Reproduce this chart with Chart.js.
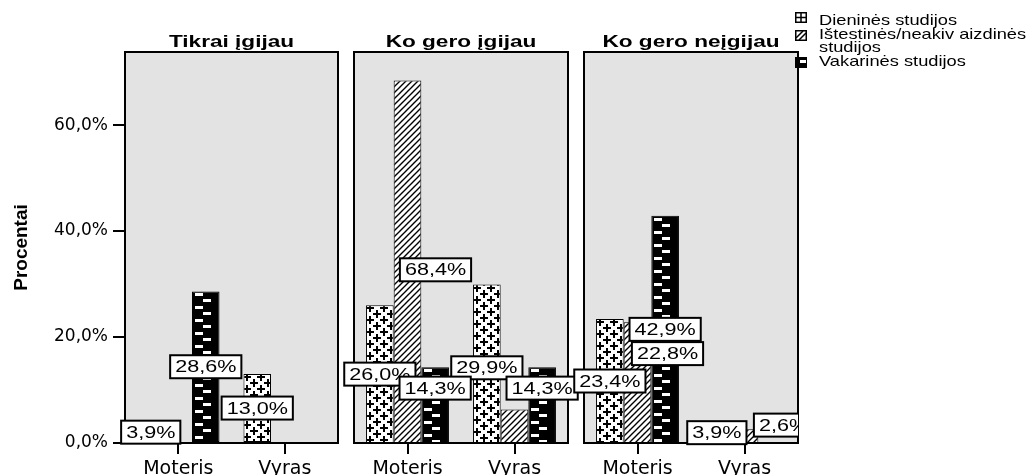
<!DOCTYPE html>
<html>
<head>
<meta charset="utf-8">
<script src="https://cdn.jsdelivr.net/npm/chart.js@4.4.1/dist/chart.umd.min.js"></script>
<style>
  body { margin: 0; background: #fff; }
  #wrap { position: relative; width: 1031px; height: 475px; overflow: hidden; }
  #wrap canvas { position: absolute; left: 0; top: 0; }
</style>
</head>
<body>
<div id="wrap">
  <canvas id="c0" width="1031" height="475"></canvas>
  <canvas id="c1" width="1031" height="475"></canvas>
  <canvas id="c2" width="1031" height="475"></canvas>
</div>
<script>
// data
const categories = ['Moteris', 'Vyras'];
const panelTitles = ['Tikrai įgijau', 'Ko gero įgijau', 'Ko gero neįgijau'];
const seriesNames = ['Dieninės studijos', 'Ištestinės/neakiv aizdinės studijos', 'Vakarinės studijos'];
const legendLines = [['Dieninės studijos'], ['Ištestinės/neakiv aizdinės', 'studijos'], ['Vakarinės studijos']];
// one entry per panel: [Moteris, Vyras]
const dieninesValues = [[3.9, 13.0], [26.0, 29.9], [23.4, 3.9]];
const istestinesValues = [[0, 0], [68.4, 6.3], [22.8, 2.6]];
const vakarinesValues = [[28.6, 0], [14.3, 14.3], [42.9, 0]];
const yTicks = [0, 20, 40, 60];
const yMax = 73.8;

// label nudges (px) per panel / series / category, null = label hidden
const labelNudge = [
    [[[0, 0], [0, 0]], [null, null], [[0, 0], null]],
    [[[0, 0], [0, 4]], [[28, 8], null], [[0, -17], [0, -17]]],
    [[[0, 0], [0, 0]], [[30, -29], [39, -11]], [[0, 0], null]]
];

// layout of the three panels
const panelLeft = [125, 354, 584];
const panelRight = [338, 568, 798];
const panelTop = 52;
const W = 1031, H = 475;
const panelFill = '#e3e3e3';
const textFont = '"Liberation Sans", Arial, sans-serif';
const tickFont = '"DejaVu Sans", sans-serif';

function fmt(v) {
    return v.toFixed(1).replace('.', ',') + '%';
}

// pattern tiles
function makeTile(w, h, draw) {
    const c = document.createElement('canvas');
    c.width = w;
    c.height = h;
    draw(c.getContext('2d'), w, h);
    return c;
}

const tiles = {
    plus: makeTile(14, 12, function(g, w, h) {
        g.fillStyle = '#fff';
        g.fillRect(0, 0, w, h);
        g.fillStyle = '#000';
        [[4, 3], [11, 9]].forEach(function(p) {
            [-w, 0, w].forEach(function(dx) {
                [-h, 0, h].forEach(function(dy) {
                    g.fillRect(p[0] + dx - 4, p[1] + dy - 1, 8, 2);
                    g.fillRect(p[0] + dx - 1, p[1] + dy - 4, 2, 8);
                });
            });
        });
    }),
    hatch: makeTile(6, 6, function(g, w, h) {
        g.fillStyle = '#fff';
        g.fillRect(0, 0, w, h);
        g.strokeStyle = '#000';
        g.lineWidth = 1.4;
        g.beginPath();
        [-6, 0, 6].forEach(function(k) {
            g.moveTo(k - 1, 7);
            g.lineTo(k + 7, -1);
        });
        g.stroke();
    }),
    brick: makeTile(28, 13, function(g, w, h) {
        g.fillStyle = '#000';
        g.fillRect(0, 0, w, h);
        g.fillStyle = '#fff';
        g.fillRect(3, 2, 8, 3);
        g.fillRect(11, 8, 8, 3);
    })
};
const seriesTiles = ['plus', 'hatch', 'brick'];

function drawStretched(ctx, text, x, y, font, sx, align) {
    ctx.save();
    ctx.font = font;
    ctx.translate(x, y);
    ctx.scale(sx, 1);
    ctx.textAlign = align;
    ctx.fillText(text, 0, 0);
    ctx.restore();
}

function drawLegend(ctx) {
    const x0 = 795;
    const swTops = [12, 30, 57];
    const baselines = [[25], [39, 52], [66]];
    ctx.save();
    ctx.fillStyle = '#000';
    legendLines.forEach(function(lines, i) {
        const y = swTops[i];
        const w = 12, h = 11;
        ctx.fillStyle = i === 2 ? '#000' : '#fff';
        ctx.fillRect(x0, y, w, h);
        ctx.strokeStyle = '#000';
        ctx.lineWidth = 1.5;
        ctx.strokeRect(x0 + 0.75, y + 0.75, w - 1.5, h - 1.5);
        ctx.beginPath();
        if (i === 0) {
            ctx.moveTo(x0, y + h / 2);
            ctx.lineTo(x0 + w, y + h / 2);
            ctx.moveTo(x0 + w / 2, y);
            ctx.lineTo(x0 + w / 2, y + h);
            ctx.stroke();
        } else if (i === 1) {
            ctx.moveTo(x0 + 1, y + h - 3);
            ctx.lineTo(x0 + w - 4, y + 1);
            ctx.moveTo(x0 + 4, y + h - 1);
            ctx.lineTo(x0 + w - 1, y + 3);
            ctx.stroke();
        } else {
            ctx.fillStyle = '#fff';
            ctx.fillRect(x0 + 5, y + 3, 6, 3);
        }
        ctx.fillStyle = '#000';
        lines.forEach(function(t, j) {
            drawStretched(ctx, t, 819, baselines[i][j], '14.5px ' + textFont, 1.26, 'left');
        });
    });
    ctx.restore();
}

const panelPlugin = {
    id: 'panel',
    beforeDatasetsDraw(chart) {
        const a = chart.chartArea;
        const ctx = chart.ctx;
        ctx.save();
        ctx.fillStyle = panelFill;
        ctx.fillRect(a.left, a.top, a.right - a.left, a.bottom - a.top);
        ctx.restore();
        // anchor each bar's pattern to the bar itself
        chart.data.datasets.forEach(function(ds, di) {
            chart.getDatasetMeta(di).data.forEach(function(el) {
                const p = el.options.backgroundColor;
                if (p && p.setTransform) {
                    p.setTransform(new DOMMatrix([1, 0, 0, 1, Math.round(el.x - el.width / 2), Math.round(el.y)]));
                }
            });
        });
    },
    afterDatasetsDraw(chart, args, opts) {
        const a = chart.chartArea;
        const ctx = chart.ctx;
        ctx.save();
        ctx.strokeStyle = '#000';
        ctx.lineWidth = 2;
        ctx.strokeRect(a.left, a.top, a.right - a.left, a.bottom - a.top);

        ctx.fillStyle = '#000';
        ctx.textBaseline = 'alphabetic';
        drawStretched(ctx, opts.title, (a.left + a.right) / 2, 47, 'bold 17px ' + textFont, 1.33, 'center');

        // value labels
        ctx.beginPath();
        ctx.rect(0, 0, panelRight[2], H);
        ctx.clip();
        const font = '17px ' + textFont;
        const sx = 1.27;
        ctx.font = font;
        chart.data.datasets.forEach(function(ds, di) {
            chart.getDatasetMeta(di).data.forEach(function(el, ci) {
                const v = ds.data[ci];
                const nudge = opts.nudges[di][ci];
                if (!v || !nudge) return;
                const text = fmt(v);
                const cx = el.x + nudge[0];
                const cy = (el.y + el.base) / 2 + nudge[1];
                const bw = ctx.measureText(text).width * sx + 10;
                const bh = 23;
                ctx.fillStyle = '#fff';
                ctx.fillRect(cx - bw / 2, cy - bh / 2, bw, bh);
                ctx.strokeStyle = '#000';
                ctx.lineWidth = 2;
                ctx.strokeRect(cx - bw / 2, cy - bh / 2, bw, bh);
                ctx.fillStyle = '#000';
                ctx.textBaseline = 'middle';
                drawStretched(ctx, text, cx, cy + 1, font, sx, 'center');
            });
        });
        ctx.restore();
    },
    afterDraw(chart, args, opts) {
        if (opts.legend) drawLegend(chart.ctx);
    }
};

const allSeries = [dieninesValues, istestinesValues, vakarinesValues];

for (let i = 0; i < 3; i++) {
    const datasets = allSeries.map(function(values, si) {
        return {
            label: seriesNames[si],
            data: values[i],
            backgroundColor: function(c) {
                return c.chart.ctx.createPattern(tiles[seriesTiles[si]], 'repeat');
            },
            borderColor: '#000',
            borderWidth: 1,
            borderSkipped: false,
            categoryPercentage: 0.775,
            barPercentage: 1
        };
    });

    new Chart(document.getElementById('c' + i), {
        type: 'bar',
        data: { labels: categories, datasets: datasets },
        options: {
            responsive: false,
            animation: false,
            events: [],
            layout: {
                padding: {
                    left: i === 0 ? 0 : panelLeft[i],
                    right: W - panelRight[i],
                    top: panelTop,
                    bottom: 0
                }
            },
            plugins: {
                legend: { display: false },
                tooltip: { enabled: false },
                panel: { title: panelTitles[i], nudges: labelNudge[i], legend: i === 2 }
            },
            scales: {
                x: {
                    grid: { offset: false, drawOnChartArea: false, tickLength: 11, lineWidth: 2, color: '#000' },
                    border: { display: false },
                    ticks: { color: '#000', font: { family: tickFont, size: 19 }, padding: 4, maxRotation: 0, autoSkip: false },
                    afterFit: function(s) { s.height = H - 443; }
                },
                y: {
                    display: i === 0,
                    min: 0,
                    max: yMax,
                    afterBuildTicks: function(s) {
                        s.ticks = yTicks.map(function(v) { return { value: v }; });
                    },
                    grid: { drawOnChartArea: false, tickLength: 12, lineWidth: 2, color: '#000' },
                    border: { display: false },
                    ticks: {
                        color: '#000',
                        font: { family: tickFont, size: 17 },
                        padding: 5,
                        callback: function(v) { return fmt(v); }
                    },
                    title: {
                        display: true,
                        text: 'Procentai',
                        color: '#000',
                        font: { family: '"Liberation Sans Narrow", "Liberation Sans", sans-serif', size: 19, weight: 'bold' },
                        padding: { top: 10, bottom: 0 }
                    },
                    afterFit: function(s) { s.width = i === 0 ? panelLeft[0] : 0; }
                }
            }
        },
        plugins: [panelPlugin]
    });
}
</script>
</body>
</html>
